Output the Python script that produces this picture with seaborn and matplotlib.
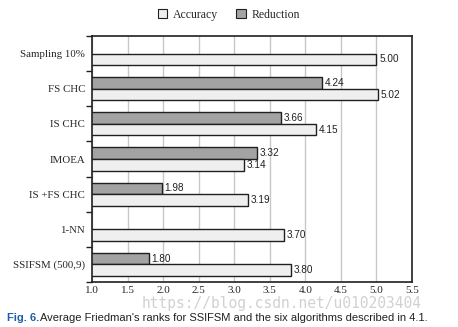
import matplotlib
matplotlib.use("Agg")
import matplotlib.pyplot as plt
from matplotlib.patches import Patch
import seaborn as sns
import pandas as pd
import numpy as np

categories = ["Sampling 10%", "FS CHC", "IS CHC", "IMOEA", "IS +FS CHC", "1-NN", "SSIFSM (500,9)"]
reduction = [np.nan, 4.24, 3.66, 3.32, 1.98, np.nan, 1.80]
accuracy = [5.00, 5.02, 4.15, 3.14, 3.19, 3.70, 3.80]
x_ticks = [1.0, 1.5, 2.0, 2.5, 3.0, 3.5, 4.0, 4.5, 5.0, 5.5]

df = pd.DataFrame({
    "category": categories * 2,
    "series": ["Reduction"] * len(categories) + ["Accuracy"] * len(categories),
    "value": reduction + accuracy,
}).dropna()

sns.set_theme(style="white")
serif = ["Liberation Serif", "DejaVu Serif"]
sans = ["Liberation Sans", "DejaVu Sans"]

colors = {"Reduction": "#a3a3a3", "Accuracy": "#efefef"}
edge = "#231f20"

fig = plt.figure(figsize=(4.58, 3.27), dpi=100)
ax = fig.add_axes([0.2009, 0.1376, 0.6987, 0.7523])

sns.barplot(data=df, x="value", y="category", hue="series", order=categories,
            hue_order=["Reduction", "Accuracy"], palette=colors, orient="h",
            width=0.66, edgecolor=edge, linewidth=1.0, legend=False, ax=ax,
            errorbar=None)

for cont in ax.containers:
    ax.bar_label(cont, fmt="%.2f", padding=2, fontsize=7.2, family=sans, color="#231f20")

ax.set_xlim(1.0, 5.5)
ax.set_ylim(len(categories) - 0.5, -0.5)
ax.set_xticks(x_ticks)
ax.set_xticklabels([f"{t:.1f}" for t in x_ticks], family=serif, fontsize=8)
ax.set_yticks(range(len(categories)))
ax.set_yticklabels(categories, family=serif, fontsize=7.8)
ax.set_yticks(np.arange(-0.5, len(categories), 1.0), minor=True)
ax.tick_params(axis="y", which="major", length=0, pad=5)
ax.tick_params(axis="y", which="minor", length=4, width=1.0, color=edge, direction="out", left=True)
ax.tick_params(axis="x", length=0, pad=3)
ax.set_xlabel("")
ax.set_ylabel("")
ax.grid(axis="x", color="#c8c8c8", linewidth=1.0)
ax.set_axisbelow(True)
for s in ax.spines.values():
    s.set_color(edge)
    s.set_linewidth(1.2)

handles = [Patch(facecolor=colors["Accuracy"], edgecolor=edge, linewidth=0.8),
           Patch(facecolor=colors["Reduction"], edgecolor=edge, linewidth=0.8)]
fig.legend(handles, ["Accuracy", "Reduction"], loc="center", bbox_to_anchor=(0.5, 0.955),
           ncol=2, frameon=False, prop={"family": serif, "size": 8.5},
           handlelength=0.8, handleheight=0.8, handletextpad=0.5, columnspacing=1.5)

fig.text(0.615, 0.072, "https://blog.csdn.net/u010203404", ha="center", va="center",
         family=["DejaVu Sans Mono"], fontsize=10.5, color="#cccccc", alpha=0.9)
fig.text(0.015, 0.027, "Fig. 6.", family=sans, fontsize=8, color="#1f5fa8",
         fontweight="bold", va="center")
fig.text(0.088, 0.027, "Average Friedman's ranks for SSIFSM and the six algorithms described in 4.1.",
         family=sans, fontsize=8, color="#231f20", va="center")

fig.savefig("out.png", dpi=100)
